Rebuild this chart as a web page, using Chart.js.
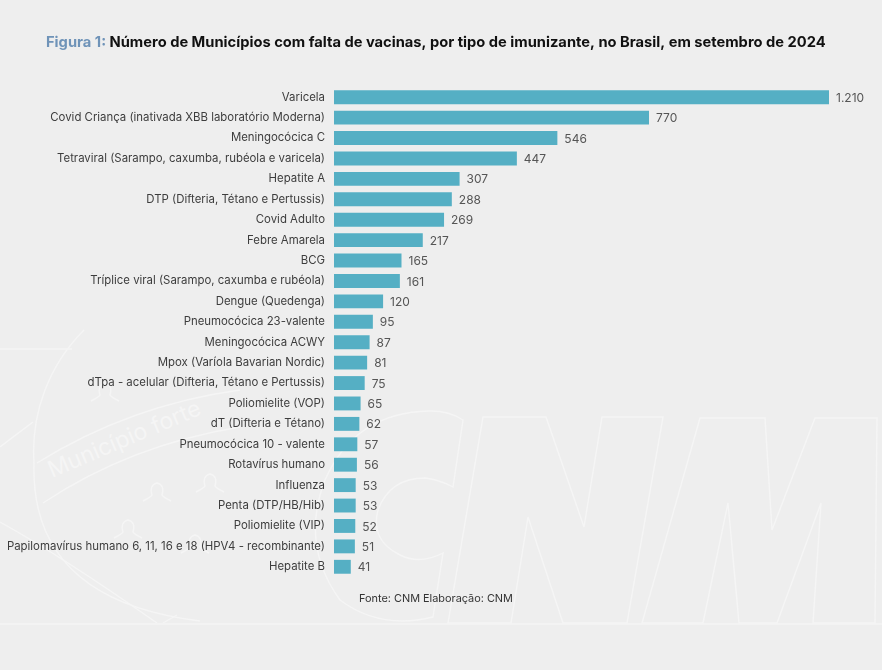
<!DOCTYPE html>
<html lang="pt-BR"><head><meta charset="utf-8">
<style>
html,body{margin:0;padding:0;background:#eeeeee;width:882px;height:670px;overflow:hidden}
#wm{position:absolute;left:0;top:0}
#wrap{position:absolute;left:0;top:0;width:882px;height:670px}
</style>
<script src="https://cdn.jsdelivr.net/npm/chart.js@4"></script>
</head><body>
<svg id="wm" width="882" height="670" viewBox="0 0 882 670" fill="none" stroke="#f5f5f5" stroke-width="1.4">
<defs><path id="p" d="M-14 8Q-6 4-5 2Q-8-8 0-10Q8-8 5 2Q6 4 14 8"/></defs>
<path d="M0 349H72M0 624H882"/>
<path d="M84 330A172 172 0 0 0 34 463Q30 600 200 621"/>
<path d="M37 463Q130 405 240 390M43 503Q130 445 240 427M0 447L33 422M0 522Q60 555 157 623M163 623L177 615"/>
<path d="M463 420Q450 411 430 411Q355 412 325 480Q300 545 340 600Q380 630 433 617L443 553Q420 565 400 555Q370 540 378 510Q390 478 425 478Q440 480 453 487Z"/>
<path d="M483 417H546L584 527L602 417H663L627 623H563L528 517L511 623H448Z"/>
<path d="M700 418H765L772 530L815 418H877L875 623H813L821 503L777 623H739L728 503L703 623H642Z"/>
<use href="#p" x="157" y="493"/><use href="#p" x="210" y="484"/><use href="#p" x="128" y="530"/><use href="#p" x="105" y="393"/><use href="#p" x="195" y="545"/>
<text x="52" y="478" transform="rotate(-23 52 478)" font-family="Inter" font-size="23" fill="#f5f5f5" stroke="none">Município forte</text>
</svg>
<div id="wrap"><canvas id="c" width="882" height="670"></canvas></div>
<script>
const categories=["Varicela","Covid Criança (inativada XBB laboratório Moderna)","Meningocócica C","Tetraviral (Sarampo, caxumba, rubéola e varicela)","Hepatite A","DTP (Difteria, Tétano e Pertussis)","Covid Adulto","Febre Amarela","BCG","Tríplice viral (Sarampo, caxumba e rubéola)","Dengue (Quedenga)","Pneumocócica 23-valente","Meningocócica ACWY","Mpox (Varíola Bavarian Nordic)","dTpa - acelular (Difteria, Tétano e Pertussis)","Poliomielite (VOP)","dT (Difteria e Tétano)","Pneumocócica 10 - valente","Rotavírus humano","Influenza","Penta (DTP/HB/Hib)","Poliomielite (VIP)","Papilomavírus humano 6, 11, 16 e 18 (HPV4 - recombinante)","Hepatite B"];
const values=[1210,770,546,447,307,288,269,217,165,161,120,95,87,81,75,65,62,57,56,53,53,52,51,41];
const valueLabels=["1.210","770","546","447","307","288","269","217","165","161","120","95","87","81","75","65","62","57","56","53","53","52","51","41"];
const titleLead="Figura 1: ";
const titleMain="Número de Municípios com falta de vacinas, por tipo de imunizante, no Brasil, em setembro de 2024";
const sourceNote="Fonte: CNM Elaboração: CNM";
const FONT='Inter, "Open Sans", sans-serif';
const annotate={id:'annotate',afterDatasetsDraw(ch){
  const c=ch.ctx,meta=ch.getDatasetMeta(0);
  c.save();c.textBaseline='middle';c.textAlign='left';
  c.font='12px '+FONT;c.fillStyle='#555555';
  meta.data.forEach((b,i)=>c.fillText(valueLabels[i],b.x+7,b.y+1));
  c.font='bold 14.7px '+FONT;
  const x0=46,y0=43;
  c.fillStyle='#6f93b8';c.fillText(titleLead,x0,y0);
  const w=c.measureText(titleLead).width;
  c.fillStyle='#111111';c.fillText(titleMain,x0+w,y0);
  c.font='10.9px '+FONT;c.fillStyle='#333333';c.fillText(sourceNote,359,599);
  c.restore();
}};
new Chart(document.getElementById('c'),{type:'bar',
 data:{labels:categories,datasets:[{data:values,backgroundColor:'#55afc4',borderWidth:0,barPercentage:0.68,categoryPercentage:1}]},
 plugins:[annotate],
 options:{indexAxis:'y',responsive:false,animation:false,
  layout:{padding:{top:87,bottom:93,left:0,right:53}},
  plugins:{legend:{display:false},tooltip:{enabled:false},title:{display:false}},
  scales:{
   x:{min:0,max:1210,display:false,grid:{display:false}},
   y:{afterFit(s){s.width=334;},grid:{display:false,drawTicks:false},border:{display:false},
      ticks:{color:'#3d3d3d',font:{family:FONT,size:11.4},padding:9,autoSkip:false}}
  }}});
</script>
</body></html>
